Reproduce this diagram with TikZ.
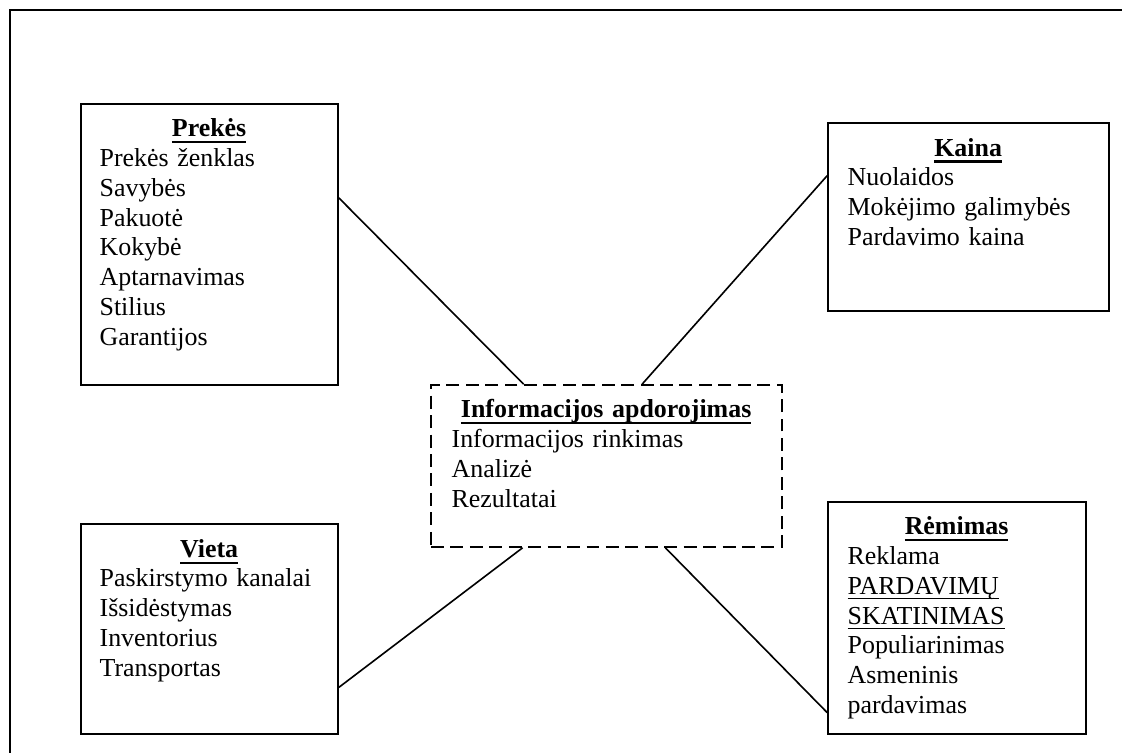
\documentclass[tikz,border=0pt]{standalone}
\usepackage{fontspec}
\setmainfont{Liberation Serif}
\usetikzlibrary{calc,fit}

% underline drawn at a fixed depth below the baseline
\newsavebox\ulinebox
\newcommand{\ulined}[3]{\leavevmode\sbox\ulinebox{#3}\rlap{\rule[-#1]{\wd\ulinebox}{#2}}\usebox\ulinebox}
\newcommand{\boxheading}[1]{\leavevmode\makebox[\linewidth]{\ulined{3.1pt}{1.1pt}{\bfseries #1}}}
\newcommand{\ultext}[1]{\ulined{2.4pt}{0.5pt}{#1}}

\begin{document}
\begin{tikzpicture}[x=0.463pt, y=-0.463pt,
  frame/.style={draw, line width=0.75pt, inner sep=0pt},
  dashedframe/.style={frame, dash pattern=on 6pt off 3pt},
  boxtext/.style={inner sep=0pt, anchor=base west, align=left,
    font={\fontsize{12}{13.8}\selectfont}},
  link/.style={line width=0.75pt}]
\useasboundingbox (0,0) rectangle (1122,753);

% page frame
\begin{scope}
  \clip (0,0) rectangle (1122,753);
  \draw[line width=0.75pt] (10,10) rectangle (1140,770);
\end{scope}

% boxes
\node[frame, fit={(81,104) (338,385)}] (prekes) {};
\node[frame, fit={(828,123) (1109,311)}] (kaina) {};
\node[frame, fit={(81,524) (338,734)}] (vieta) {};
\node[frame, fit={(828,502) (1086,734)}] (remimas) {};
\node[dashedframe, fit={(431,385) (782,547)}] (info) {};

% box contents
\node[boxtext, text width=101.4pt] (prekes-text) at ($(prekes.north west)+(19,33.5)$)
  {\boxheading{Prekės}\\
   Prekės ženklas\\ Savybės\\ Pakuotė\\ Kokybė\\ Aptarnavimas\\ Stilius\\ Garantijos};

\node[boxtext, text width=111.6pt] (kaina-text) at ($(kaina.north west)+(20,34)$)
  {\boxheading{Kaina}\\
   Nuolaidos\\ Mokėjimo galimybės\\ Pardavimo kaina};

\node[boxtext, text width=101.4pt] (vieta-text) at ($(vieta.north west)+(19,34)$)
  {\boxheading{Vieta}\\
   Paskirstymo kanalai\\ Išsidėstymas\\ Inventorius\\ Transportas};

\node[boxtext, text width=100.9pt] (remimas-text) at ($(remimas.north west)+(20,33.5)$)
  {\boxheading{Rėmimas}\\
   Reklama\\ \ultext{PARDAVIMŲ}\\ \ultext{SKATINIMAS}\\ Populiarinimas\\ Asmeninis\\ pardavimas};

\node[boxtext, text width=143.1pt] (info-text) at ($(info.north west)+(21,33.5)$)
  {\boxheading{Informacijos apdorojimas}\\
   Informacijos rinkimas\\ Analizė\\ Rezultatai};

% connectors
\draw[link] ($(prekes.north east)!0.335!(prekes.south east)$) -- ($(info.north west)!0.265!(info.north east)$);
\draw[link] ($(info.north west)!0.601!(info.north east)$) -- ($(kaina.north west)!0.282!(kaina.south west)$);
\draw[link] ($(vieta.north east)!0.776!(vieta.south east)$) -- ($(info.south west)!0.262!(info.south east)$);
\draw[link] ($(info.south west)!0.667!(info.south east)$) -- ($(remimas.north west)!0.905!(remimas.south west)$);
\end{tikzpicture}
\end{document}
